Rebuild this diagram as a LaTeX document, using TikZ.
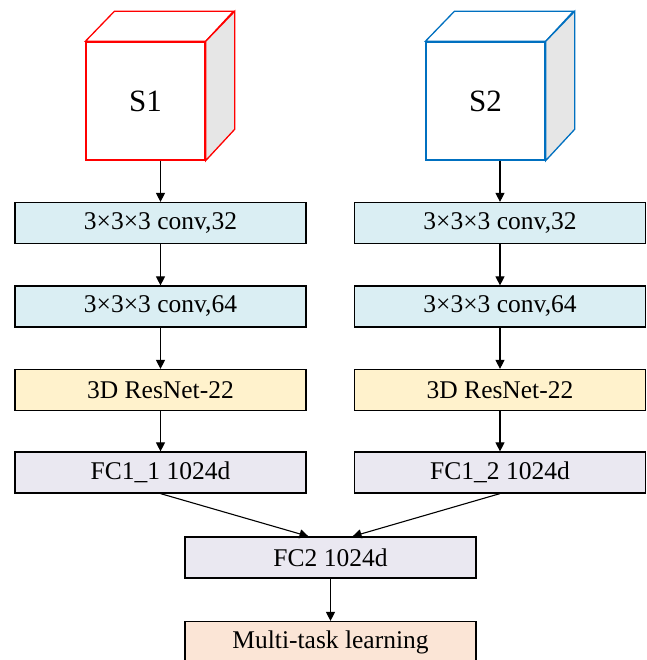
\documentclass[tikz,border=0pt]{standalone}
\usepackage{fontspec}
\setmainfont{Liberation Serif}
\usetikzlibrary{arrows.meta}

\definecolor{convblue}{HTML}{DAEEF3}
\definecolor{resyellow}{HTML}{FFF2CC}
\definecolor{fcgray}{HTML}{EAE8F1}
\definecolor{taskpeach}{HTML}{FBE5D6}
\definecolor{sidegray}{HTML}{E6E6E6}
\definecolor{cubered}{HTML}{FF0000}
\definecolor{cubeblue}{HTML}{0070C0}

\tikzset{
  layer/.style={draw=black, line width=1.2pt, minimum width=291pt, minimum height=41pt,
    inner sep=0pt, font=\fontsize{25.5}{28}\selectfont},
  face/.style={line width=1.3pt, minimum width=119pt, minimum height=118pt,
    inner sep=0pt, fill=white, font=\fontsize{31}{34}\selectfont},
  flow/.style={-{Triangle[length=9pt,width=9pt]}, line width=1.1pt}
}

\begin{document}
\begin{tikzpicture}[x=1pt, y=-1pt]
				%%%%% START %%%%%
				\def\xl{160.5}
				\def\xr{500}
				\def\dx{29}
				\def\dy{-30}
				\useasboundingbox (0,0) rectangle (646,660);

				% input cubes
				\node[face, draw=cubered] (s1) at (145.5,101) {S1};
				\draw[line width=1.3pt, draw=cubered, fill=white] (s1.north west) -- ++(\dx,\dy) -- ++(119,0) -- (s1.north east) -- cycle;
				\draw[line width=1.3pt, draw=cubered, fill=sidegray] (s1.north east) -- ++(\dx,\dy) -- ++(0,118) -- (s1.south east) -- cycle;

				\node[face, draw=cubeblue] (s2) at (485.5,101) {S2};
				\draw[line width=1.3pt, draw=cubeblue, fill=white] (s2.north west) -- ++(\dx,\dy) -- ++(119,0) -- (s2.north east) -- cycle;
				\draw[line width=1.3pt, draw=cubeblue, fill=sidegray] (s2.north east) -- ++(\dx,\dy) -- ++(0,118) -- (s2.south east) -- cycle;

				% left branch
				\node[layer, fill=convblue] (convA1) at (\xl,223) {3×3×3 conv,32};
				\node[layer, fill=convblue] (convA2) at (\xl,306.5) {3×3×3 conv,64};
				\node[layer, fill=resyellow] (resA) at (\xl,390) {3D ResNet-22};
				\node[layer, fill=fcgray] (fcA) at (\xl,472.5) {FC1\_1 1024d};

				% right branch
				\node[layer, fill=convblue] (convB1) at (\xr,223) {3×3×3 conv,32};
				\node[layer, fill=convblue] (convB2) at (\xr,306.5) {3×3×3 conv,64};
				\node[layer, fill=resyellow] (resB) at (\xr,390) {3D ResNet-22};
				\node[layer, fill=fcgray] (fcB) at (\xr,472.5) {FC1\_2 1024d};

				% fusion
				\node[layer, fill=fcgray] (fc2) at (330.5,557.5) {FC2 1024d};
				\node[layer, fill=taskpeach] (task) at (330.5,642) {Multi-task learning};

				\draw[flow] (s1.south -| convA1.north) -- (convA1.north);
				\draw[flow] (convA1) -- (convA2);
				\draw[flow] (convA2) -- (resA);
				\draw[flow] (resA) -- (fcA);

				\draw[flow] (s2.south -| convB1.north) -- (convB1.north);
				\draw[flow] (convB1) -- (convB2);
				\draw[flow] (convB2) -- (resB);
				\draw[flow] (resB) -- (fcB);

				\draw[flow] (fcA.south) -- ([xshift=-22pt]fc2.north);
				\draw[flow] (fcB.south) -- ([xshift=22pt]fc2.north);
				\draw[flow] (fc2) -- (task);
				%%%%% START %%%%%
\end{tikzpicture}
\end{document}
